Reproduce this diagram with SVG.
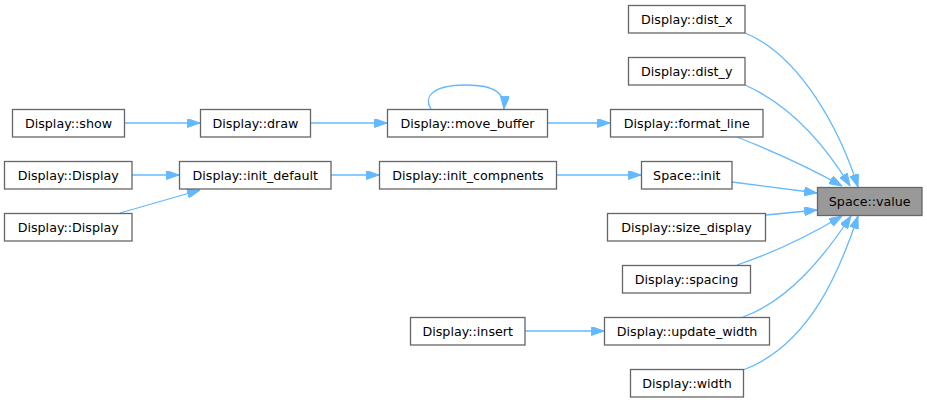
<svg xmlns="http://www.w3.org/2000/svg" width="927" height="402" viewBox="0 0 927 402">
<defs>
<style>
.n rect{fill:#ffffff;stroke:#666666;stroke-width:1.3}
.n.hl rect{fill:#999999}
.n text{font-family:"DejaVu Sans",sans-serif;font-size:12.7px;fill:#000000;text-anchor:middle}
.e path{fill:none;stroke:#63b8ff;stroke-width:1.3;marker-end:url(#ah)}
</style>
<marker id="ah" markerUnits="userSpaceOnUse" markerWidth="13" markerHeight="9" viewBox="0 0 12.7 9" refX="12.7" refY="4.5" orient="auto">
<path d="M0,0 L12.7,4.5 L0,9 z" fill="#63b8ff" stroke="#63b8ff" stroke-width="1"/>
</marker>
</defs>
<rect width="927" height="402" fill="#ffffff"/>
<g id="edges" class="e">
<path d="M124,123 L200,123"/>
<path d="M310,123 L387,123"/>
<path d="M431,109 C424,98 430,85 466,85 C496,85 505,94 504,109"/>
<path d="M547,123 L610,123"/>
<path d="M132,175 L179,175"/>
<path d="M120,213 L200,190"/>
<path d="M331,175 L379,175"/>
<path d="M557,175 L641,175"/>
<path d="M525,331 L604,331"/>
<path d="M737,137 C770,150 810,168 842,186"/>
<path d="M745,85 C790,105 825,145 850,186"/>
<path d="M745,33 C800,55 840,130 858,187"/>
<path d="M732,182 L817,193"/>
<path d="M766,215 L817,210"/>
<path d="M737,265 C770,254 810,235 842,216"/>
<path d="M743,317 C790,300 825,255 851,216"/>
<path d="M743,370 C810,345 840,270 858,216"/>
</g>
<g id="node_value" class="n hl"><rect x="817.5" y="187.5" width="104.5" height="28"/><text x="869.75" y="206">Space::value</text></g>
<g id="node_dist_x" class="n"><rect x="628.5" y="5.5" width="116.5" height="27.5"/><text x="686.75" y="23.5">Display::dist_x</text></g>
<g id="node_dist_y" class="n"><rect x="628.5" y="57.5" width="116.5" height="27.5"/><text x="686.75" y="75.5">Display::dist_y</text></g>
<g id="node_format_line" class="n"><rect x="610.5" y="109.5" width="152.5" height="27.5"/><text x="686.75" y="127.5">Display::format_line</text></g>
<g id="node_space_init" class="n"><rect x="641.5" y="161.5" width="90.5" height="27.5"/><text x="686.75" y="179.5">Space::init</text></g>
<g id="node_size_display" class="n"><rect x="607.5" y="213.5" width="158" height="27.5"/><text x="686.5" y="231.5">Display::size_display</text></g>
<g id="node_spacing" class="n"><rect x="622.5" y="265.5" width="128" height="27.5"/><text x="686.5" y="283.5">Display::spacing</text></g>
<g id="node_update_width" class="n"><rect x="604.5" y="317.5" width="165" height="27.5"/><text x="687" y="335.5">Display::update_width</text></g>
<g id="node_width" class="n"><rect x="630.5" y="369.5" width="113" height="27.5"/><text x="687" y="387.5">Display::width</text></g>
<g id="node_show" class="n"><rect x="12.5" y="109.5" width="112" height="27.5"/><text x="68.5" y="127.5">Display::show</text></g>
<g id="node_draw" class="n"><rect x="200.5" y="109.5" width="110" height="27.5"/><text x="255.5" y="127.5">Display::draw</text></g>
<g id="node_move_buffer" class="n"><rect x="387.5" y="109.5" width="160" height="27.5"/><text x="467.5" y="127.5">Display::move_buffer</text></g>
<g id="node_display1" class="n"><rect x="4.5" y="161.5" width="127.5" height="27.5"/><text x="68.25" y="179.5">Display::Display</text></g>
<g id="node_init_default" class="n"><rect x="179.5" y="161.5" width="151.5" height="27.5"/><text x="255.25" y="179.5">Display::init_default</text></g>
<g id="node_init_compnents" class="n"><rect x="379.5" y="161.5" width="177" height="27.5"/><text x="468" y="179.5">Display::init_compnents</text></g>
<g id="node_display2" class="n"><rect x="4.5" y="213.5" width="127.5" height="27.5"/><text x="68.25" y="231.5">Display::Display</text></g>
<g id="node_insert" class="n"><rect x="410.5" y="317.5" width="114.5" height="27.5"/><text x="467.75" y="335.5">Display::insert</text></g>
</svg>
